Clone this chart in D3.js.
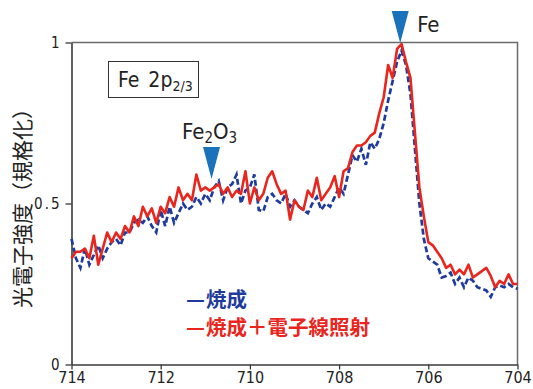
<!DOCTYPE html>
<html>
<head>
<meta charset="utf-8">
<script src="https://cdn.jsdelivr.net/npm/d3@7"></script>
<style>
  body { margin: 0; background: #fff; }
  .tick text { font-family: "Liberation Sans Narrow", "DejaVu Sans Condensed", sans-serif; fill: #222; }
</style>
</head>
<body>
<script>
// binding energy axis, 714 -> 704 eV, 0.1 eV steps
const energyStart = 714;
const energyStep = 0.1;

// 焼成 (blue, dashed)
const bakedValues = [
  0.39, 0.33, 0.30, 0.36, 0.31, 0.34, 0.37, 0.33, 0.36, 0.38,
  0.39, 0.37, 0.41, 0.41, 0.44, 0.45, 0.44, 0.46, 0.43, 0.41,
  0.48, 0.43, 0.49, 0.44, 0.47, 0.50, 0.48,
  0.49, 0.52, 0.50, 0.53, 0.51, 0.55, 0.57, 0.51, 0.55, 0.56,
  0.59, 0.50, 0.54, 0.55, 0.59, 0.48, 0.475, 0.52, 0.53, 0.51,
  0.50, 0.53, 0.49, 0.51, 0.49, 0.48, 0.47,
  0.50, 0.52, 0.48, 0.50, 0.49, 0.52, 0.55, 0.53, 0.59, 0.65,
  0.63, 0.67, 0.62, 0.69, 0.67, 0.70, 0.75, 0.82, 0.88, 0.94,
  0.975, 0.93, 0.84, 0.67, 0.50,
  0.39, 0.33, 0.32, 0.31, 0.27, 0.275, 0.285, 0.25, 0.27, 0.24,
  0.27, 0.26, 0.24, 0.235, 0.23, 0.21, 0.24, 0.245, 0.24, 0.25,
  0.24, 0.235
];

// 焼成＋電子線照射 (red, solid)
const irradiatedValues = [
  0.33, 0.35, 0.35, 0.36, 0.33, 0.40, 0.31, 0.36, 0.41, 0.38,
  0.41, 0.39, 0.43, 0.41, 0.46, 0.43, 0.49, 0.46, 0.485, 0.44,
  0.49, 0.47, 0.52, 0.49, 0.55, 0.51, 0.53,
  0.51, 0.59, 0.54, 0.55, 0.54, 0.55, 0.56, 0.53, 0.55, 0.52,
  0.54, 0.53, 0.60, 0.50, 0.55, 0.51, 0.53, 0.58, 0.60, 0.56,
  0.53, 0.54, 0.45, 0.51, 0.49, 0.48, 0.54,
  0.52, 0.58, 0.51, 0.53, 0.55, 0.585, 0.52, 0.60, 0.61, 0.66,
  0.68, 0.68, 0.69, 0.71, 0.72, 0.78, 0.83, 0.93, 0.89, 0.98,
  0.995, 0.94, 0.89, 0.72, 0.55,
  0.46, 0.38, 0.37, 0.35, 0.33, 0.30, 0.31, 0.28, 0.295, 0.28,
  0.31, 0.27, 0.28, 0.29, 0.30, 0.275, 0.24, 0.26, 0.25, 0.28,
  0.25, 0.25
];

const xTicks = [714, 712, 710, 708, 706, 704];
const yTicks = [0, 0.5, 1];
const yTickLabels = ["0", "0.5", "1"];

// peak markers
const peakNames = ["Fe", "Fe2O3"];
const peakEnergies = [706.63, 710.86];

const width = 533, height = 389;
const margin = { top: 42.5, right: 15.5, bottom: 24.5, left: 71.5 };

const svg = d3.select("body").append("svg")
    .attr("width", width)
    .attr("height", height);

const x = d3.scaleLinear().domain([714, 704]).range([margin.left, width - margin.right]);
const y = d3.scaleLinear().domain([0, 1]).range([height - margin.bottom, margin.top]);

// frame (top + right in gray)
svg.append("path")
    .attr("d", `M${x(714)},${y(1)}H${x(704)}V${y(0)}`)
    .attr("fill", "none")
    .attr("stroke", "#6b6b6b")
    .attr("stroke-width", 1.5);

const xAxis = svg.append("g")
    .attr("transform", `translate(0,${y(0)})`)
    .call(d3.axisBottom(x).tickValues(xTicks).tickSize(5).tickSizeOuter(0).tickFormat(d3.format("d")));
xAxis.selectAll("text").attr("font-size", 16).attr("y", 7).attr("dy", "0.72em");

const yAxis = svg.append("g")
    .attr("transform", `translate(${x(714)},0)`)
    .call(d3.axisLeft(y).tickValues(yTicks).tickSize(6).tickSizeOuter(0)
        .tickFormat((d, i) => yTickLabels[i]));
yAxis.selectAll("text").attr("font-size", 15).attr("letter-spacing", 2).attr("x", -10);

svg.selectAll(".domain").attr("stroke", "#3a3a3a").attr("stroke-width", 1.6);
svg.selectAll(".tick line").attr("stroke", "#3a3a3a").attr("stroke-width", 1.3);

const line = d3.line()
    .x((d, i) => x(energyStart - i * energyStep))
    .y(d => y(d));

svg.append("path")
    .datum(bakedValues)
    .attr("fill", "none")
    .attr("stroke", "#1f3c9c")
    .attr("stroke-width", 2.7)
    .attr("stroke-dasharray", "6,3")
    .attr("d", line);

svg.append("path")
    .datum(irradiatedValues)
    .attr("fill", "none")
    .attr("stroke", "#e8261e")
    .attr("stroke-width", 2.6)
    .attr("stroke-linejoin", "round")
    .attr("d", line);

// triangles pointing down at the peaks
const triTop = [11, 147];
const triH = 32, triW = 17;
svg.selectAll(".peak")
    .data(peakEnergies)
    .enter()
    .append("path")
    .attr("class", "peak")
    .attr("fill", "#1a72bb")
    .attr("d", (d, i) => {
        const cx = x(d), t = triTop[i];
        return `M${cx - triW / 2},${t}L${cx + triW / 2},${t}L${cx},${t + triH}Z`;
    });

const labelFont = "'Liberation Sans Narrow', 'DejaVu Sans Condensed', sans-serif";

svg.append("text")
    .attr("x", x(peakEnergies[0]) + 17)
    .attr("y", 32)
    .attr("font-family", labelFont)
    .attr("font-size", 22)
    .attr("fill", "#222")
    .text(peakNames[0]);

const fe2o3 = svg.append("text")
    .attr("x", 182)
    .attr("y", 139)
    .attr("font-family", labelFont)
    .attr("font-size", 22)
    .attr("fill", "#222");
fe2o3.append("tspan").text("Fe");
fe2o3.append("tspan").attr("font-size", 15).attr("dy", 4).text("2");
fe2o3.append("tspan").attr("dy", -4).text("O");
fe2o3.append("tspan").attr("font-size", 15).attr("dy", 4).text("3");

// box label
svg.append("rect")
    .attr("x", 108.5).attr("y", 61.5)
    .attr("width", 90).attr("height", 36)
    .attr("fill", "#fff")
    .attr("stroke", "#333")
    .attr("stroke-width", 1);
const boxText = svg.append("text")
    .attr("x", 118)
    .attr("y", 87)
    .attr("font-family", labelFont)
    .attr("font-size", 21)
    .attr("fill", "#222");
boxText.append("tspan").text("Fe");
boxText.append("tspan").attr("dx", 9).text("2p");
boxText.append("tspan").attr("font-size", 14).attr("dy", 4).text("2/3");

// y label
svg.append("text")
    .attr("transform", "translate(30,203) rotate(-90)")
    .attr("text-anchor", "middle")
    .attr("font-family", "'Noto Sans CJK JP', sans-serif")
    .attr("font-size", 21)
    .attr("fill", "#222")
    .text("光電子強度（規格化）");

// legend: dash + label
const legendLabels = ["焼成", "焼成＋電子線照射"];
const legendColors = ["#1f3c9c", "#e8261e"];
const legend = svg.selectAll(".legend")
    .data(legendLabels)
    .enter()
    .append("g")
    .attr("class", "legend")
    .attr("transform", (d, i) => `translate(186,${307 + i * 28})`);

legend.append("text")
    .attr("font-family", "'Noto Sans CJK JP', sans-serif")
    .attr("font-weight", "bold")
    .attr("font-size", 20.5)
    .attr("fill", (d, i) => legendColors[i])
    .attr("textLength", 19)
    .attr("lengthAdjust", "spacingAndGlyphs")
    .text("—");

legend.append("text")
    .attr("x", 20)
    .attr("font-family", "'Noto Sans CJK JP', sans-serif")
    .attr("font-weight", "bold")
    .attr("font-size", 20.5)
    .attr("fill", (d, i) => legendColors[i])
    .text(d => d);
</script>
</body>
</html>
